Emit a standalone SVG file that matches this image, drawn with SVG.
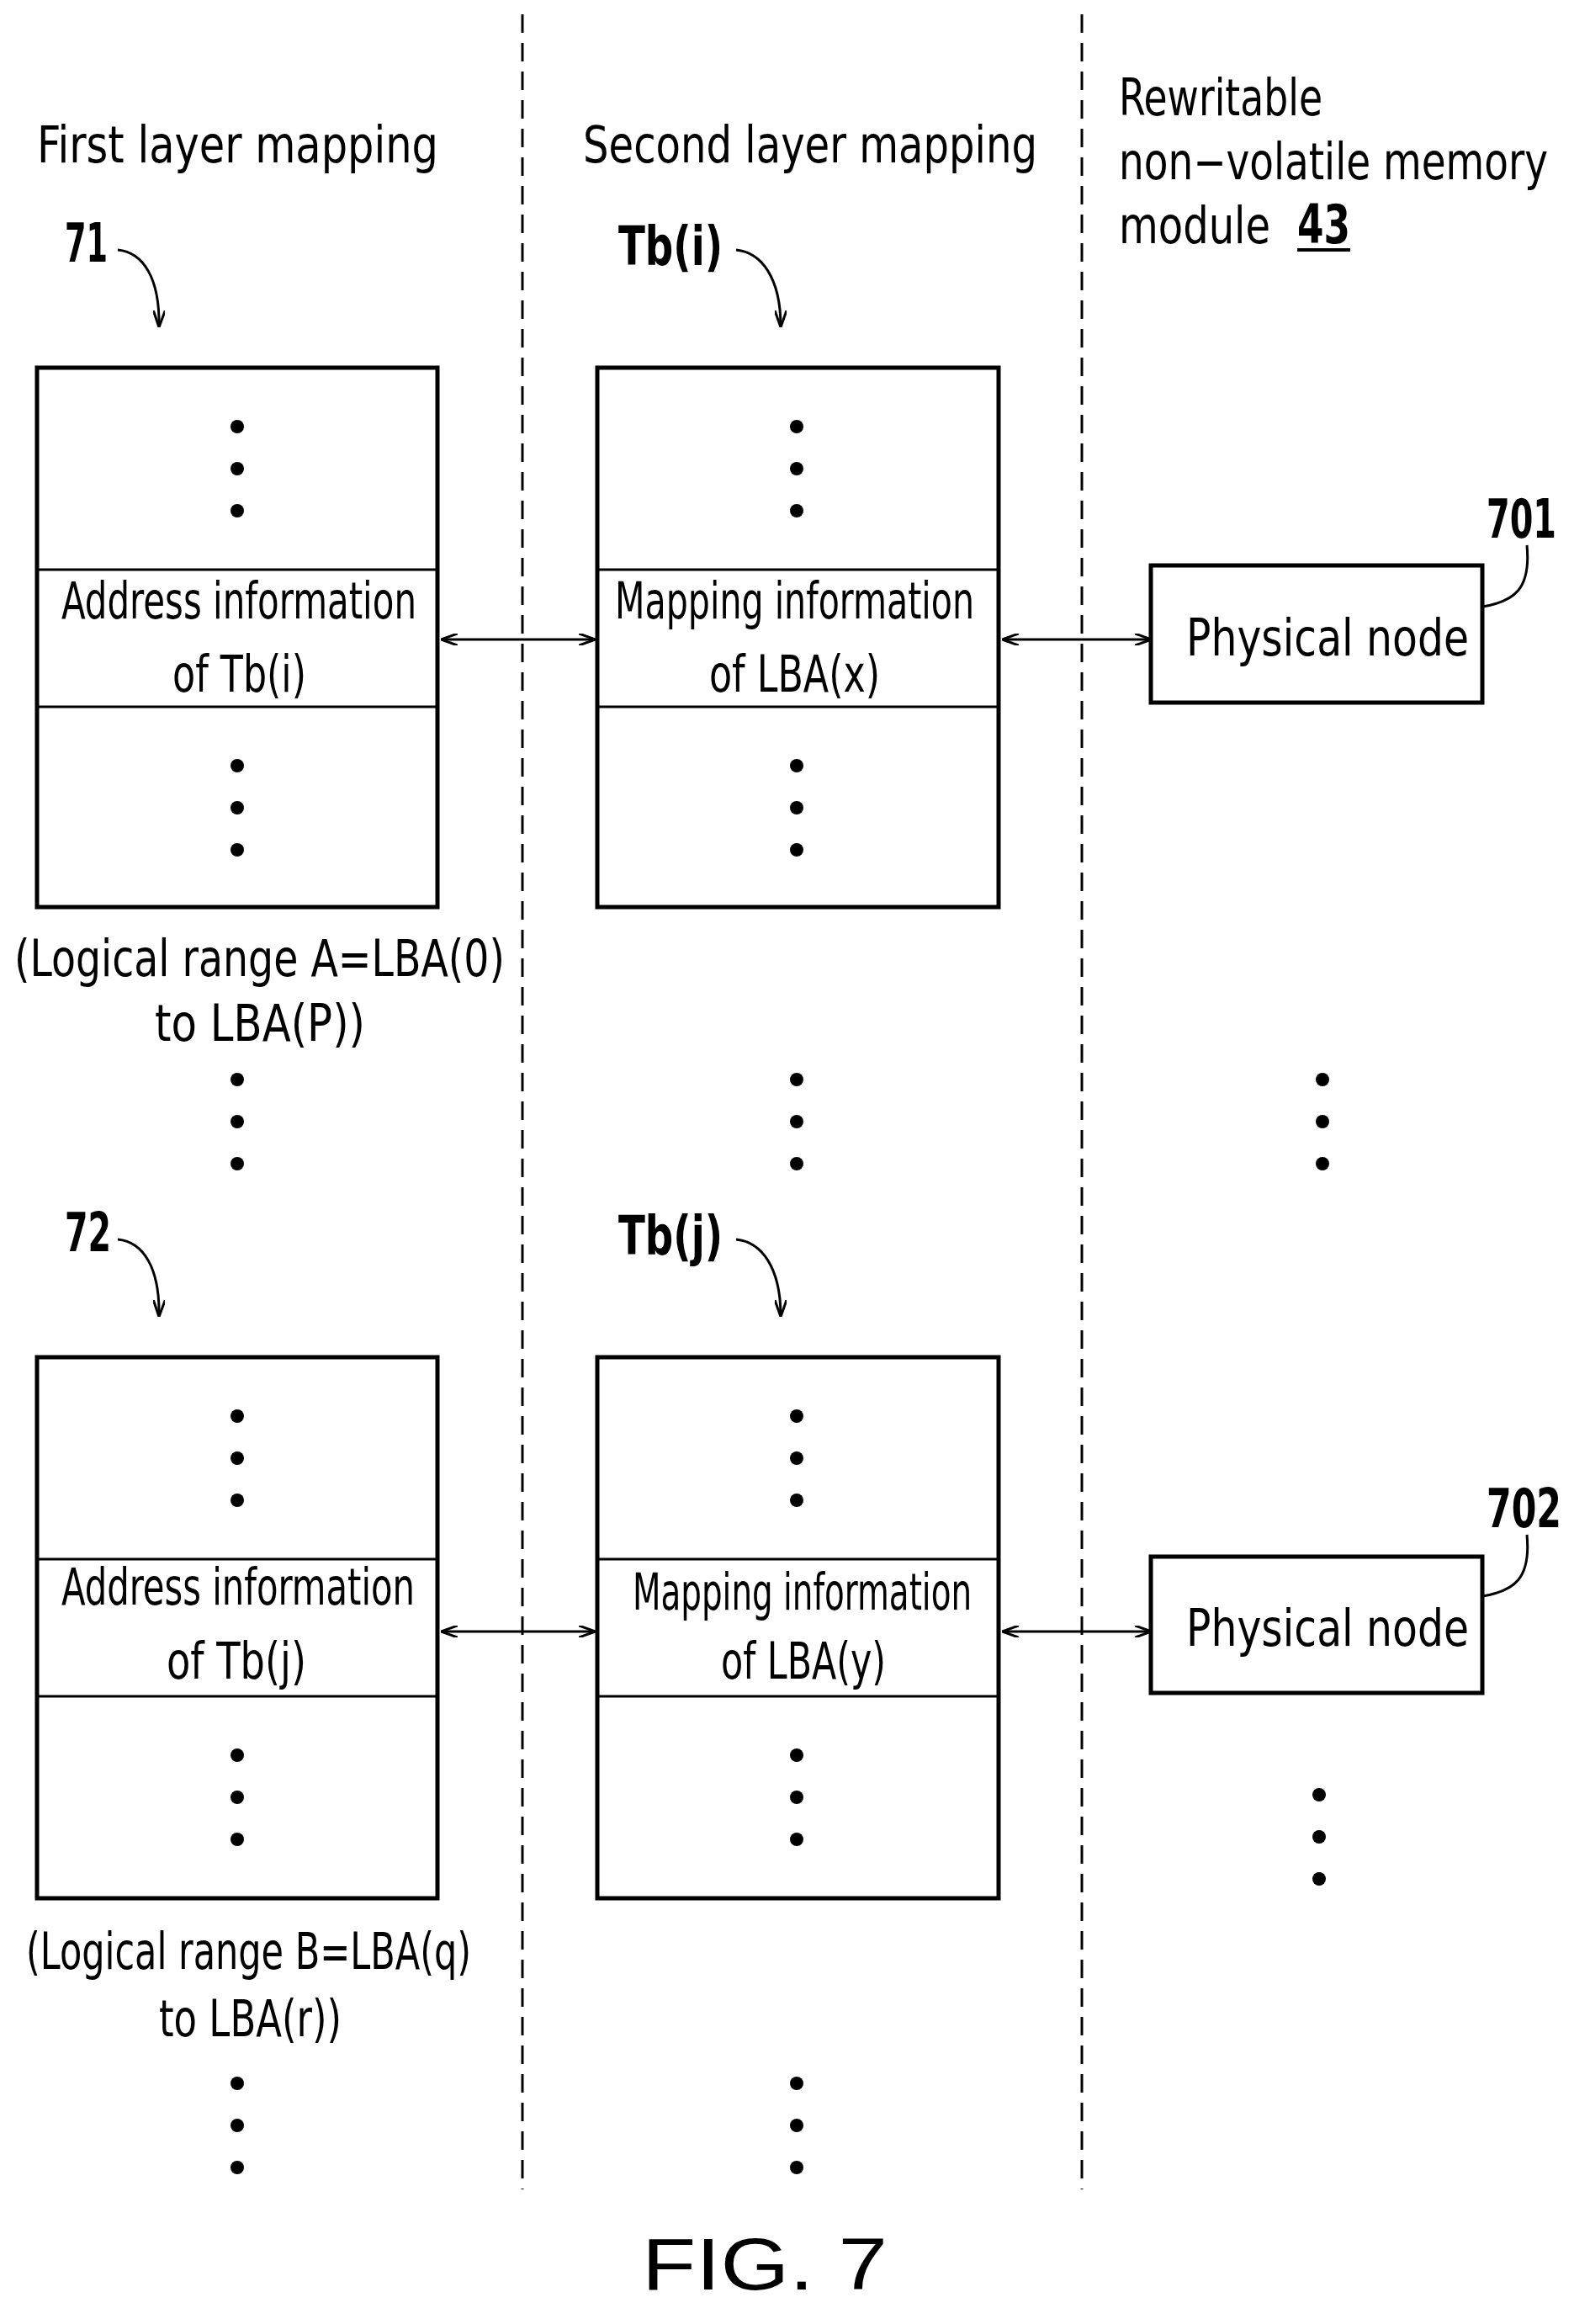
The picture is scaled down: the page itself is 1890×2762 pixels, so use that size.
<svg xmlns="http://www.w3.org/2000/svg" width="1890" height="2762" viewBox="0 0 1890 2762">
<style>
.t{font-family:"Liberation Sans Narrow","DejaVu Sans Condensed","Liberation Sans",sans-serif;font-size:60px;fill:#000}
.b{font-family:"Liberation Sans Narrow","DejaVu Sans Condensed","Liberation Sans",sans-serif;font-size:64px;font-weight:bold;fill:#000}
.box{fill:#fff;stroke:#000;stroke-width:5}
.ln{stroke:#000;stroke-width:3;fill:none}
.d{stroke:#000;stroke-width:3;stroke-dasharray:22,12;fill:none}
</style>
<defs>
<marker id="a" markerWidth="20" markerHeight="14" refX="19" refY="7" orient="auto-start-reverse" markerUnits="userSpaceOnUse">
<path d="M0,0 L20,7 L0,14" fill="none" stroke="#000" stroke-width="3"/>
</marker>
<g id="dots3"><circle cx="0" cy="0" r="8"/><circle cx="0" cy="50" r="8"/><circle cx="0" cy="100" r="8"/></g>
</defs>
<rect width="1890" height="2762" fill="#fff"/>
<g id="dividers">
<line class="d" x1="621" y1="17" x2="621" y2="2602"/>
<line class="d" x1="1286" y1="17" x2="1286" y2="2602"/>
</g>
<g id="headers">
<text class="t" x="44" y="193" textLength="477" lengthAdjust="spacingAndGlyphs">First layer mapping</text>
<text class="t" x="693" y="193" textLength="540" lengthAdjust="spacingAndGlyphs">Second layer mapping</text>
<text class="t" x="1330" y="137" textLength="242" lengthAdjust="spacingAndGlyphs">Rewritable</text>
<text class="t" x="1330" y="213" textLength="510" lengthAdjust="spacingAndGlyphs">non−volatile memory</text>
<text class="t" x="1330" y="289" textLength="180" lengthAdjust="spacingAndGlyphs">module</text>
<text class="b" x="1542" y="289" textLength="63" lengthAdjust="spacingAndGlyphs">43</text>
<line x1="1542" y1="297" x2="1605" y2="297" stroke="#000" stroke-width="4"/>
</g>
<g id="table71">
<rect class="box" x="44" y="437" width="476" height="641"/>
<line class="ln" x1="44" y1="677" x2="520" y2="677" stroke-width="5"/>
<line class="ln" x1="44" y1="840" x2="520" y2="840" stroke-width="5"/>
<use href="#dots3" x="282" y="507"/><use href="#dots3" x="282" y="910"/>
<text class="t" x="73" y="735" textLength="422" lengthAdjust="spacingAndGlyphs">Address information</text>
<text class="t" x="205" y="822" textLength="159" lengthAdjust="spacingAndGlyphs">of Tb(i)</text>
<text class="b" x="77" y="311" textLength="51" lengthAdjust="spacingAndGlyphs">71</text>
<text class="t" x="17" y="1160" textLength="583" lengthAdjust="spacingAndGlyphs">(Logical range A=LBA(0)</text>
<text class="t" x="184" y="1237" textLength="250" lengthAdjust="spacingAndGlyphs">to LBA(P))</text>
</g>
<g id="tableTbi">
<rect class="box" x="710" y="437" width="477" height="641"/>
<line class="ln" x1="710" y1="677" x2="1187" y2="677" stroke-width="5"/>
<line class="ln" x1="710" y1="840" x2="1187" y2="840" stroke-width="5"/>
<use href="#dots3" x="947" y="507"/><use href="#dots3" x="947" y="910"/>
<text class="t" x="731" y="735" textLength="427" lengthAdjust="spacingAndGlyphs">Mapping information</text>
<text class="t" x="843" y="822" textLength="203" lengthAdjust="spacingAndGlyphs">of LBA(x)</text>
<text class="b" x="735" y="315" textLength="124" lengthAdjust="spacingAndGlyphs">Tb(i)</text>
</g>
<g id="node701">
<rect class="box" x="1368" y="672" width="394" height="163"/>
<text class="t" x="1410" y="779" textLength="336" lengthAdjust="spacingAndGlyphs">Physical node</text>
<text class="b" x="1767" y="639" textLength="83" lengthAdjust="spacingAndGlyphs">701</text>
</g>
<g id="table72">
<rect class="box" x="44" y="1613" width="476" height="643"/>
<line class="ln" x1="44" y1="1853" x2="520" y2="1853" stroke-width="5"/>
<line class="ln" x1="44" y1="2016" x2="520" y2="2016" stroke-width="5"/>
<use href="#dots3" x="282" y="1683"/><use href="#dots3" x="282" y="2086"/>
<text class="t" x="73" y="1907" textLength="420" lengthAdjust="spacingAndGlyphs">Address information</text>
<text class="t" x="198" y="1995" textLength="166" lengthAdjust="spacingAndGlyphs">of Tb(j)</text>
<text class="b" x="77" y="1487" textLength="55" lengthAdjust="spacingAndGlyphs">72</text>
<text class="t" x="31" y="2340" textLength="529" lengthAdjust="spacingAndGlyphs">(Logical range B=LBA(q)</text>
<text class="t" x="189" y="2420" textLength="217" lengthAdjust="spacingAndGlyphs">to LBA(r))</text>
</g>
<g id="tableTbj">
<rect class="box" x="710" y="1613" width="477" height="643"/>
<line class="ln" x1="710" y1="1853" x2="1187" y2="1853" stroke-width="5"/>
<line class="ln" x1="710" y1="2016" x2="1187" y2="2016" stroke-width="5"/>
<use href="#dots3" x="947" y="1683"/><use href="#dots3" x="947" y="2086"/>
<text class="t" x="752" y="1913" textLength="403" lengthAdjust="spacingAndGlyphs">Mapping information</text>
<text class="t" x="857" y="1995" textLength="196" lengthAdjust="spacingAndGlyphs">of LBA(y)</text>
<text class="b" x="735" y="1491" textLength="124" lengthAdjust="spacingAndGlyphs">Tb(j)</text>
</g>
<g id="node702">
<rect class="box" x="1368" y="1850" width="394" height="162"/>
<text class="t" x="1410" y="1956" textLength="336" lengthAdjust="spacingAndGlyphs">Physical node</text>
<text class="b" x="1767" y="1815" textLength="89" lengthAdjust="spacingAndGlyphs">702</text>
</g>
<g id="ellipses">
<use href="#dots3" x="282" y="1283"/><use href="#dots3" x="947" y="1283"/><use href="#dots3" x="1572" y="1283"/>
<use href="#dots3" x="1568" y="2133"/>
<use href="#dots3" x="282" y="2476"/><use href="#dots3" x="947" y="2476"/>
</g>
<g id="connectors">
<line class="ln" x1="525" y1="760" x2="707" y2="760" marker-start="url(#a)" marker-end="url(#a)"/>
<line class="ln" x1="1192" y1="760" x2="1368" y2="760" marker-start="url(#a)" marker-end="url(#a)"/>
<line class="ln" x1="525" y1="1939" x2="707" y2="1939" marker-start="url(#a)" marker-end="url(#a)"/>
<line class="ln" x1="1192" y1="1939" x2="1368" y2="1939" marker-start="url(#a)" marker-end="url(#a)"/>
<path class="ln" d="M140,297 C170,300 190,330 189,388" marker-end="url(#a)"/>
<path class="ln" d="M875,297 C905,300 928,330 928,388" marker-end="url(#a)"/>
<path class="ln" d="M140,1473 C170,1476 190,1506 189,1564" marker-end="url(#a)"/>
<path class="ln" d="M875,1473 C905,1476 928,1506 928,1564" marker-end="url(#a)"/>
<path class="ln" d="M1762,721 C1800,715 1820,700 1815,648"/>
<path class="ln" d="M1762,1897 C1800,1891 1820,1876 1815,1824"/>
</g>
<text x="763" y="2721" font-family="Liberation Sans, sans-serif" font-size="88" textLength="292" lengthAdjust="spacingAndGlyphs">FIG. 7</text>
</svg>
